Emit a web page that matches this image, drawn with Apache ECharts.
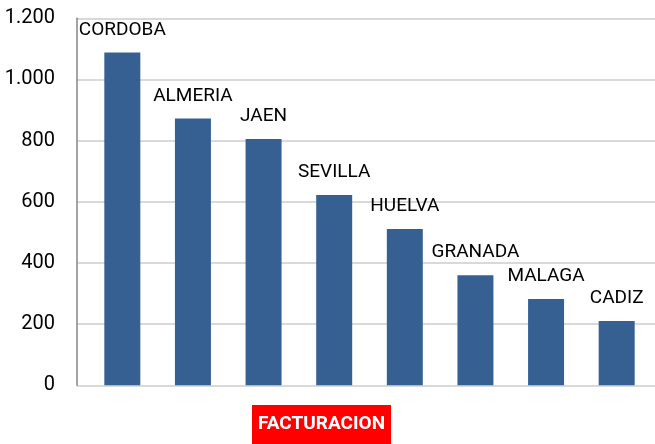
<!DOCTYPE html>
<html>
<head>
<meta charset="utf-8">
<script src="https://cdn.jsdelivr.net/npm/echarts@6/dist/echarts.min.js"></script>
<style>
  html, body { margin: 0; padding: 0; background: #fff; }
  #chart { width: 655px; height: 444px; }
</style>
</head>
<body>
<div id="chart"></div>
<script>
var provincias = ['CORDOBA', 'ALMERIA', 'JAEN', 'SEVILLA', 'HUELVA', 'GRANADA', 'MALAGA', 'CADIZ']
var facturacion = [1088, 872, 805, 622, 511, 360, 282, 210]
var ticks = [0, 200, 400, 600, 800, 1000, 1200]

var font = "Roboto, 'DejaVu Sans Condensed', sans-serif"

var chart = echarts.init(document.getElementById('chart'))

chart.setOption({
  animation: false,
  title: {
    text: 'FACTURACION',
    left: 252,
    top: 405,
    padding: [10, 6, 12, 6],
    backgroundColor: '#ff0000',
    textStyle: {
      color: '#fff',
      fontWeight: 'bold',
      fontSize: 19,
      fontFamily: font
    }
  },
  grid: [
    // gridlines and y labels
    { left: 77, right: 0, top: 18.3, bottom: 58.7 },
    // bars
    { left: 87, right: 3, top: 18.3, bottom: 58.7 }
  ],
  xAxis: [
    {
      type: 'category',
      gridIndex: 0,
      data: provincias,
      show: false
    },
    {
      type: 'category',
      gridIndex: 1,
      data: provincias,
      show: false
    }
  ],
  yAxis: [
    {
      type: 'value',
      gridIndex: 0,
      min: ticks[0],
      max: ticks[ticks.length - 1],
      interval: 200,
      axisLine: { show: true, lineStyle: { color: '#868686', width: 1.5 } },
      axisTick: { show: false },
      splitLine: { lineStyle: { color: '#d9d9d9', width: 2 } },
      axisLabel: {
        margin: 22,
        color: '#000',
        fontSize: 20,
        fontFamily: font,
        formatter: function (v) {
          return String(v).replace(/\B(?=(\d{3})+(?!\d))/g, '.')
        }
      }
    },
    {
      type: 'value',
      gridIndex: 1,
      min: ticks[0],
      max: ticks[ticks.length - 1],
      show: false,
      splitLine: { show: false }
    }
  ],
  series: [
    {
      type: 'bar',
      xAxisIndex: 1,
      yAxisIndex: 1,
      barWidth: 36,
      data: facturacion,
      itemStyle: { color: '#376092' },
      label: {
        show: true,
        position: 'top',
        distance: 13,
        color: '#000',
        fontSize: 19,
        fontFamily: font,
        formatter: '{b}'
      }
    }
  ]
})
</script>
</body>
</html>
